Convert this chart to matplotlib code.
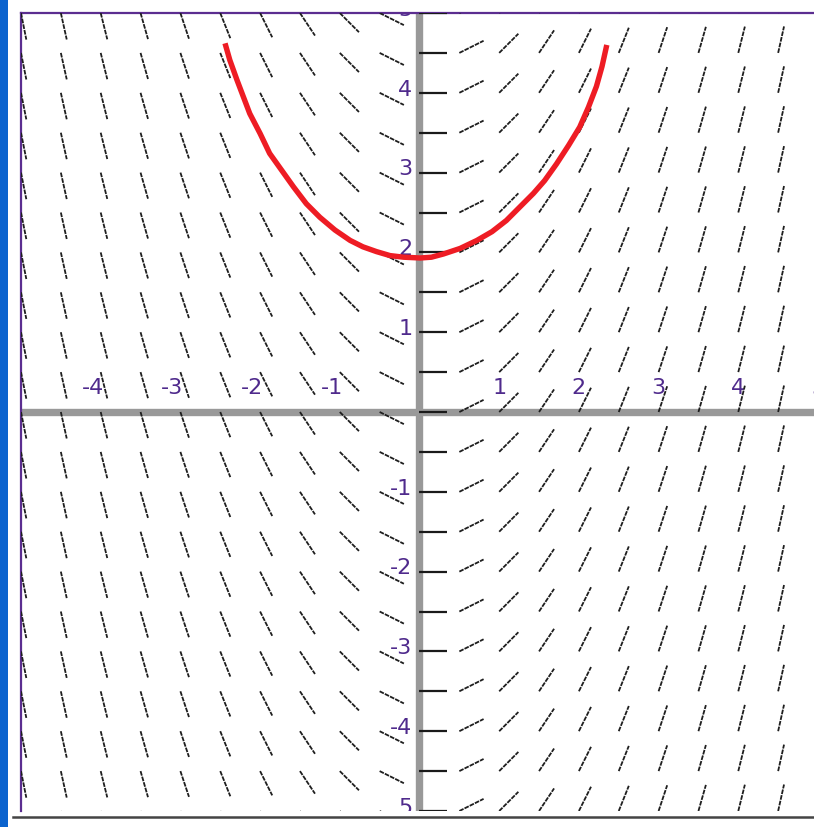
import matplotlib
matplotlib.use("Agg")
import matplotlib.pyplot as plt
import numpy as np
from matplotlib.collections import LineCollection

# ---- data ----
col_x = [-5.0, -4.5, -4.0, -3.5, -3.0, -2.5, -2.0, -1.5, -1.0, -0.5,
         0.0, 0.5, 1.0, 1.5, 2.0, 2.5, 3.0, 3.5, 4.0, 4.5, 5.0]
col_slope = [-5.0, -4.5, -4.0, -3.5, -3.0, -2.5, -2.0, -1.5, -1.0, -0.5,
             0.0, 0.5, 1.0, 1.5, 2.0, 2.5, 3.0, 3.5, 4.0, 4.5, 5.0]
row_y = [-5.0, -4.5, -4.0, -3.5, -3.0, -2.5, -2.0, -1.5, -1.0, -0.5,
         0.0, 0.5, 1.0, 1.5, 2.0, 2.5, 3.0, 3.5, 4.0, 4.5, 5.0]
curve_x = [-2.44, -2.38, -2.29, -2.21, -2.13, -2.00, -1.88, -1.73, -1.58,
           -1.42, -1.25, -1.06, -0.87, -0.71, -0.54, -0.37, -0.20, 0.01,
           0.15, 0.30, 0.51, 0.72, 0.91, 1.09, 1.26, 1.43, 1.57, 1.72,
           1.87, 2.01, 2.12, 2.22, 2.29, 2.35]
curve_y = [4.62, 4.41, 4.16, 3.95, 3.74, 3.49, 3.24, 3.03, 2.82,
           2.61, 2.44, 2.28, 2.15, 2.07, 2.01, 1.96, 1.94, 1.93,
           1.94, 1.98, 2.05, 2.15, 2.26, 2.40, 2.57, 2.74, 2.90, 3.11,
           3.34, 3.57, 3.82, 4.08, 4.33, 4.60]
x_ticks = [-4, -3, -2, -1, 1, 2, 3, 4, 5]
x_tick_labels = ["-4", "-3", "-2", "-1", "1", "2", "3", "4", "5"]
y_ticks = [-5, -4, -3, -2, -1, 1, 2, 3, 4, 5]
y_tick_labels = ["5", "-4", "-3", "-2", "-1", "1", "2", "3", "4", "5"]

# ---- figure ----
W, H = 814, 827
fig = plt.figure(figsize=(W / 100, H / 100), dpi=100)
fig.patch.set_facecolor("white")

# blue strip at left edge
fig.add_artist(plt.Rectangle((0, 0), 8 / W, 1, transform=fig.transFigure,
                             facecolor="#0b63ce", edgecolor="none"))
# bottom dark line
fig.add_artist(plt.Line2D([13 / W, 1], [1 - 817 / H, 1 - 817 / H],
                          transform=fig.transFigure, color="#444444", lw=1.8))

left_px, right_px = 21, 818
top_px, bot_px = 13, 811
ax = fig.add_axes([left_px / W, 1 - bot_px / H,
                   (right_px - left_px) / W, (bot_px - top_px) / H])
ax.set_xlim(-5, 5)
ax.set_ylim(-5, 5)
ax.set_xticks([])
ax.set_yticks([])
for s in ["right", "bottom"]:
    ax.spines[s].set_visible(False)
for s in ["top", "left"]:
    ax.spines[s].set_color("#5b2d90")
    ax.spines[s].set_linewidth(1.6)

# gray axes
ax.plot([-5, 5], [0, 0], color="#999999", lw=5.3, solid_capstyle="butt", zorder=1)
ax.plot([0, 0], [-5, 5], color="#999999", lw=5.3, solid_capstyle="butt", zorder=1)

# slope field
L = 0.34
segs_flat, segs_slant = [], []
for xc, s in zip(col_x, col_slope):
    n = np.hypot(1.0, s)
    dx, dy = L / n, L * s / n
    for yr in row_y:
        seg = [(xc, yr), (xc + dx, yr + dy)]
        (segs_flat if s == 0 else segs_slant).append(seg)
ax.add_collection(LineCollection(segs_slant, colors="#1e1e1e", linewidths=1.3,
                                 linestyles=[(0, (2.6, 0.6))], zorder=3))
ax.add_collection(LineCollection(segs_flat, colors="#1a1a1a", linewidths=1.6,
                                 zorder=3))

# solution curve
ax.plot(curve_x, curve_y, color="#ee1c24", lw=3.9, zorder=4,
        solid_joinstyle="round", solid_capstyle="butt")

# tick labels
lab_color = "#4f2a8c"
for xv, lab in zip(x_ticks, x_tick_labels):
    if xv < 0:
        ax.text(xv + 0.04, 0.22, lab, ha="right", va="baseline", fontsize=16,
                color=lab_color, zorder=2)
    else:
        ax.text(xv, 0.22, lab, ha="center", va="baseline", fontsize=16,
                color=lab_color, zorder=2, clip_on=False)
for yv, lab in zip(y_ticks, y_tick_labels):
    ax.text(-0.09, yv + 0.04, lab, ha="right", va="center", fontsize=16,
            color=lab_color, zorder=2, clip_on=True)

fig.savefig("out.png", dpi=100)
